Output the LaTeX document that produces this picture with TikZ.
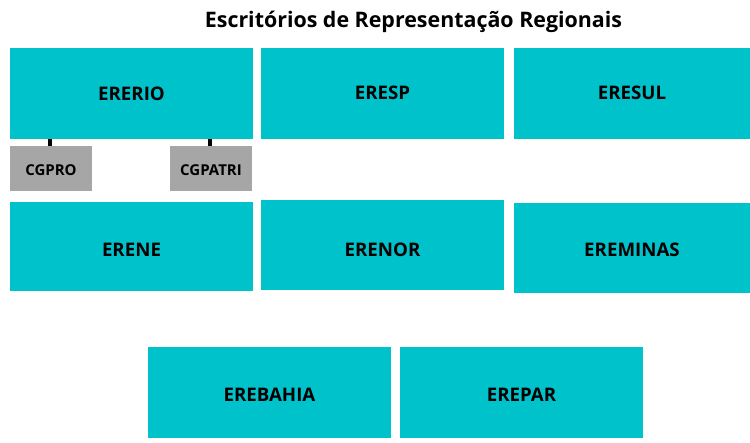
\documentclass[tikz,border=0pt]{standalone}
\usepackage{fontspec}
\setmainfont{Open Sans}
\definecolor{boxcyan}{HTML}{00C2CB}
\definecolor{boxgray}{HTML}{A6A6A6}
\tikzset{
  office/.style={fill=boxcyan, draw=none, inner sep=0pt, font=\fontsize{18.7}{22}\selectfont\bfseries, text=black, text height=13.35pt, text depth=0pt},
  drop/.style={text height=13.35pt+2*#1},
  unit/.style={fill=boxgray, draw=none, inner sep=0pt, minimum width=82pt, minimum height=45pt, font=\fontsize{15}{18}\selectfont\bfseries, text=black, text height=10.7pt+2.6pt, text depth=0pt},
  link/.style={line width=3.5pt, draw=black}
}
\begin{document}
\begin{tikzpicture}[x=1pt,y=-1pt]
\useasboundingbox (0,0) rectangle (750,443);
\node[font=\fontsize{21.4}{25}\selectfont\bfseries, anchor=base] (title) at (413.5,28) {Escritórios de Representação Regionais};
\node[office, drop=0.7pt, minimum width=243pt, minimum height=91pt] (ererio) at (131.5,93.5) {ERERIO};
\node[office, drop=-1pt, minimum width=243pt, minimum height=91pt] (eresp) at (382.5,93.5) {ERESP};
\node[office, drop=-1pt, minimum width=236pt, minimum height=91pt] (eresul) at (632,93.5) {ERESUL};
\node[unit] (cgpro) at (51,168.5) {CGPRO};
\node[unit] (cgpatri) at (211,168.5) {CGPATRI};
\draw[link] ([xshift=-1pt]cgpro.north) -- ([xshift=-1pt]cgpro.north |- ererio.south);
\draw[link] ([xshift=-1pt]cgpatri.north) -- ([xshift=-1pt]cgpatri.north |- ererio.south);
\node[office, drop=3.8pt, minimum width=243pt, minimum height=89pt] (erene) at (131.5,246.5) {ERENE};
\node[office, drop=5.3pt, minimum width=243pt, minimum height=90pt] (erenor) at (382.5,245) {ERENOR};
\node[office, drop=2.3pt, minimum width=236pt, minimum height=90pt] (ereminas) at (632,248) {EREMINAS};
\node[office, drop=2.8pt, minimum width=243pt, minimum height=91pt] (erebahia) at (269.5,392.5) {EREBAHIA};
\node[office, drop=2.8pt, minimum width=243pt, minimum height=91pt] (erepar) at (521.5,392.5) {EREPAR};
\end{tikzpicture}
\end{document}
